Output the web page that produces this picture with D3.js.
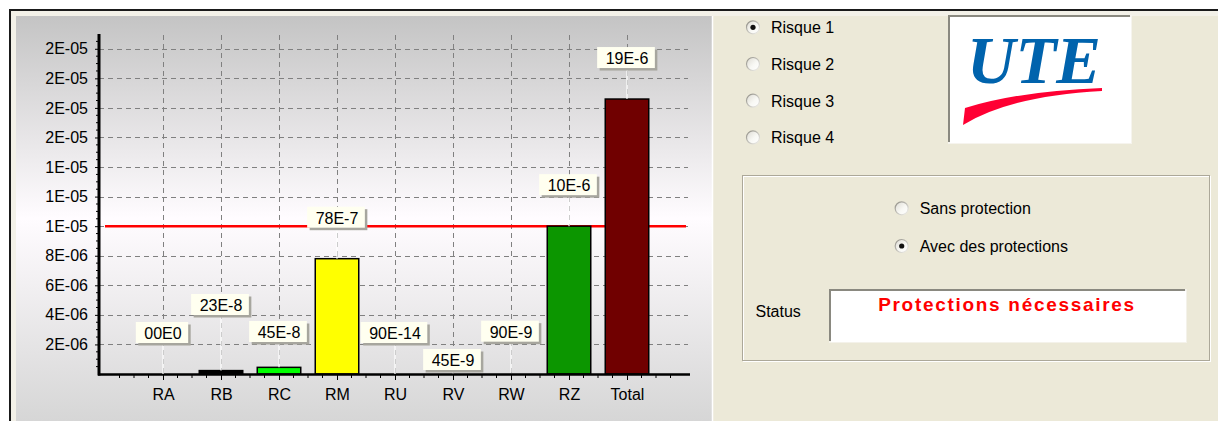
<!DOCTYPE html>
<html lang="fr">
<head>
<meta charset="UTF-8">
<title>Risques</title>
<script src="https://d3js.org/d3.v7.min.js"></script>
<style>
  body { margin: 0; padding: 0; overflow: hidden; background: #fff; }
  svg { display: block; font-family: "Liberation Sans", Arial, sans-serif; }
</style>
</head>
<body>
<div id="chart"></div>
<script>
// chart data
const categories = ["RA", "RB", "RC", "RM", "RU", "RV", "RW", "RZ", "Total"];
const values = [0, 2.3e-7, 4.5e-7, 7.8e-6, 9.0e-14, 4.5e-8, 9.0e-8, 1.0e-5, 1.86e-5];
const markLabels = ["00E0", "23E-8", "45E-8", "78E-7", "90E-14", "45E-9", "90E-9", "10E-6", "19E-6"];
const barColors = ["#ff0000", "#000000", "#00ff00", "#ffff00", "#0000ff", "#ff00ff", "#00ffff", "#0c9600", "#700000"];
const yTicks = [2e-6, 4e-6, 6e-6, 8e-6, 1e-5, 1.2e-5, 1.4e-5, 1.6e-5, 1.8e-5, 2e-5, 2.2e-5];
const yTickLabels = ["2E-06", "4E-06", "6E-06", "8E-06", "1E-05", "1E-05", "1E-05", "2E-05", "2E-05", "2E-05", "2E-05"];
const tolerable = 1e-5;

const risks = ["Risque 1", "Risque 2", "Risque 3", "Risque 4"];
const selectedRisk = 0;
const protections = ["Sans protection", "Avec des protections"];
const selectedProtection = 1;
const statusText = "Protections nécessaires";

const W = 1218, H = 421;
const svg = d3.select("#chart").append("svg")
    .attr("width", W)
    .attr("height", H);

const defs = svg.append("defs");
const bg = defs.append("linearGradient")
    .attr("id", "panelBg")
    .attr("x1", 0).attr("y1", 0).attr("x2", 0).attr("y2", 1);
bg.append("stop").attr("offset", "0%").attr("stop-color", "#c4c4c4");
bg.append("stop").attr("offset", "50%").attr("stop-color", "#fffcff");
bg.append("stop").attr("offset", "100%").attr("stop-color", "#d6d6d6");

const radioGrad = defs.append("linearGradient")
    .attr("id", "radioFill")
    .attr("x1", 0).attr("y1", 0).attr("x2", 1).attr("y2", 1);
radioGrad.append("stop").attr("offset", "0%").attr("stop-color", "#dcdad2");
radioGrad.append("stop").attr("offset", "55%").attr("stop-color", "#f8f8f4");
radioGrad.append("stop").attr("offset", "100%").attr("stop-color", "#ffffff");
const radioEdge = defs.append("linearGradient")
    .attr("id", "radioEdge")
    .attr("x1", 0).attr("y1", 0).attr("x2", 1).attr("y2", 1);
radioEdge.append("stop").attr("offset", "0%").attr("stop-color", "#8e8c84");
radioEdge.append("stop").attr("offset", "100%").attr("stop-color", "#f4f3ee");

// window frame
svg.append("rect").attr("width", W).attr("height", H).attr("fill", "#ffffff");
svg.append("rect").attr("x", 9).attr("y", 9).attr("width", W - 9).attr("height", H - 9).attr("fill", "#1a1a1a");
svg.append("rect").attr("x", 11).attr("y", 11).attr("width", W - 11).attr("height", H - 11).attr("fill", "#f3f1e8");
svg.append("rect").attr("x", 16).attr("y", 16).attr("width", W - 16).attr("height", H - 16).attr("fill", "#ece9d8");

// chart panel
svg.append("rect")
    .attr("x", 16).attr("y", 16)
    .attr("width", 696).attr("height", H - 16)
    .attr("fill", "url(#panelBg)");
svg.append("line")
    .attr("x1", 712.5).attr("x2", 712.5).attr("y1", 16).attr("y2", H)
    .attr("stroke", "#ffffff").attr("stroke-width", 1.5);

const x = d3.scalePoint().domain(categories).range([163, 627]);
const step = x.step();
const y = d3.scaleLinear().domain([0, 2.3e-5]).range([374, 34]);
const xLeft = 99, xRight = 690;
const barW = 43.5;

const g = svg.append("g");

// grid
g.selectAll(".hgrid")
    .data(yTicks)
    .join("line")
    .attr("x1", xLeft).attr("x2", 688)
    .attr("y1", d => Math.round(y(d)) + 0.5)
    .attr("y2", d => Math.round(y(d)) + 0.5)
    .attr("stroke", "#808080")
    .attr("stroke-dasharray", "5,4");
g.selectAll(".vgrid")
    .data(categories)
    .join("line")
    .attr("x1", d => Math.round(x(d)) + 0.5)
    .attr("x2", d => Math.round(x(d)) + 0.5)
    .attr("y1", y(2.3e-5) + 1).attr("y2", y(0))
    .attr("stroke", "#808080")
    .attr("stroke-dasharray", "5,4");

// tolerable risk line
g.append("line")
    .attr("x1", 105).attr("x2", 686)
    .attr("y1", y(tolerable)).attr("y2", y(tolerable))
    .attr("stroke", "#ff0000")
    .attr("stroke-width", 2.5);

// bars (those under 2px vanish into the axis)
const visible = d => (y(0) - y(d)) > 2;
g.selectAll(".bar")
    .data(values)
    .join("rect")
    .attr("x", (d, i) => x(categories[i]) - barW / 2)
    .attr("y", d => y(d))
    .attr("width", barW)
    .attr("height", d => y(0) - y(d))
    .attr("fill", (d, i) => visible(d) ? barColors[i] : "none")
    .attr("stroke", d => visible(d) ? "#000" : "none")
    .attr("stroke-width", 1.5);

// axes
const yAxis = d3.axisLeft(y)
    .tickValues(yTicks)
    .tickFormat((d, i) => yTickLabels[i])
    .tickSize(4)
    .tickPadding(7);
const ya = g.append("g").attr("transform", `translate(${xLeft},0)`).call(yAxis);
ya.select(".domain").remove();
ya.selectAll("text").attr("font-size", 16).attr("fill", "#000").attr("font-family", "Liberation Sans, Arial, sans-serif");
ya.selectAll("line").attr("stroke", "#000");

// minor ticks
const yMinor = d3.range(0, 2.3e-5, 5e-7).filter(v => Math.round(v / 2e-6 * 4) % 4 !== 0);
g.selectAll(".yminor")
    .data(yMinor)
    .join("line")
    .attr("x1", xLeft - 3).attr("x2", xLeft)
    .attr("y1", d => y(d)).attr("y2", d => y(d))
    .attr("stroke", "#000");

const xMinor = d3.range(-4, 41).map(k => 163 + k * step / 4).filter((v, k) => v >= 104 && v <= 686 && (k % 4) !== 0);
g.selectAll(".xminor")
    .data(xMinor)
    .join("line")
    .attr("x1", d => d).attr("x2", d => d)
    .attr("y1", y(0)).attr("y2", y(0) + 4)
    .attr("stroke", "#000");

const xAxis = d3.axisBottom(x).tickSize(6).tickPadding(9);
const xa = g.append("g").attr("transform", `translate(0,${y(0)})`).call(xAxis);
xa.select(".domain").remove();
xa.selectAll("text").attr("font-size", 16).attr("fill", "#000").attr("font-family", "Liberation Sans, Arial, sans-serif");
xa.selectAll("line").attr("stroke", "#000");

g.append("line")
    .attr("x1", xLeft - 1).attr("x2", xRight)
    .attr("y1", y(0) + 0.5).attr("y2", y(0) + 0.5)
    .attr("stroke", "#000").attr("stroke-width", 2.5);
g.append("line")
    .attr("x1", xLeft).attr("x2", xLeft)
    .attr("y1", 34).attr("y2", y(0) + 1.5)
    .attr("stroke", "#000").attr("stroke-width", 3);

// value marks: first overlap is pushed above, later overlaps below
const marksG = g.append("g");
const placed = [];
let goUp = true;
values.forEach((v, i) => {
    const cx = x(categories[i]);
    const top0 = y(v);
    const grp = marksG.append("g");
    const txt = grp.append("text")
        .attr("font-size", 16)
        .attr("text-anchor", "middle")
        .attr("fill", "#000")
        .text(markLabels[i]);
    const tw = txt.node().getComputedTextLength();
    const bw = tw + 15, bh = 21;
    const bx = cx - bw / 2 - 1;
    let by = top0 - 52;
    const hit = placed.find(p => bx < p.x1 + 3 && bx + bw + 2 > p.x0 && Math.abs(p.y - by) < bh + 2);
    if (hit) {
        by = goUp ? hit.y - 28 : hit.y + 27;
        goUp = false;
    }
    placed.push({ x0: bx, x1: bx + bw + 2, y: by });

    grp.insert("line", "text")
        .attr("x1", cx).attr("x2", cx)
        .attr("y1", by + bh).attr("y2", top0)
        .attr("stroke", "#ffffff").attr("stroke-width", 1.2);
    grp.insert("rect", "text")
        .attr("x", bx + 2.5).attr("y", by + 2.5)
        .attr("width", bw).attr("height", bh)
        .attr("fill", "#a7a69e");
    grp.insert("rect", "text")
        .attr("x", bx).attr("y", by)
        .attr("width", bw).attr("height", bh)
        .attr("fill", "#fffff0");
    txt.attr("x", cx).attr("y", by + 17);
});

// right side controls
function radio(parent, cx, cy, label, checked) {
    parent.append("circle")
        .attr("cx", cx).attr("cy", cy).attr("r", 6.5)
        .attr("fill", "url(#radioFill)")
        .attr("stroke", "url(#radioEdge)").attr("stroke-width", 1.2);
    if (checked) {
        parent.append("circle")
            .attr("cx", cx).attr("cy", cy).attr("r", 2.6)
            .attr("fill", "#111");
    }
    parent.append("text")
        .attr("x", cx + 18).attr("y", cy + 6)
        .attr("font-size", 16).attr("fill", "#000")
        .text(label);
}

const ui = svg.append("g");
risks.forEach((r, i) => radio(ui, 753, 27.3 + i * 36.7, r, i === selectedRisk));

// logo
ui.append("rect").attr("x", 948).attr("y", 15).attr("width", 184).attr("height", 129).attr("fill", "#f6f4ee");
ui.append("rect").attr("x", 948).attr("y", 15).attr("width", 182).attr("height", 127).attr("fill", "#8a8980");
ui.append("rect").attr("x", 950).attr("y", 17).attr("width", 181).attr("height", 126).attr("fill", "#ffffff");
ui.append("path")
    .attr("d", "M965,108 Q1020,91 1102,88 L1102,91 Q1010,96 963,125 Z")
    .attr("fill", "#ff0033");
ui.append("text")
    .attr("x", 1034).attr("y", 83)
    .attr("text-anchor", "middle")
    .attr("font-family", "Liberation Serif, Times New Roman, serif")
    .attr("font-style", "italic").attr("font-weight", "bold")
    .attr("font-size", 67)
    .attr("fill", "#0063ad")
    .text("UTE");

// group box
ui.append("rect").attr("x", 743.5).attr("y", 176.5).attr("width", 467).attr("height", 185)
    .attr("fill", "none").attr("stroke", "#ffffff");
ui.append("rect").attr("x", 742.5).attr("y", 175.5).attr("width", 467).attr("height", 185)
    .attr("fill", "none").attr("stroke", "#aca899");

protections.forEach((p, i) => radio(ui, 901.7, 208.3 + i * 37.7, p, i === selectedProtection));

ui.append("text")
    .attr("x", 755.5).attr("y", 317)
    .attr("font-size", 16).attr("fill", "#000")
    .text("Status");

ui.append("rect").attr("x", 829).attr("y", 289).attr("width", 358).attr("height", 54).attr("fill", "#f4f2ea");
ui.append("rect").attr("x", 829).attr("y", 289).attr("width", 356).attr("height", 52).attr("fill", "#8a8980");
ui.append("rect").attr("x", 831).attr("y", 291).attr("width", 355).attr("height", 51).attr("fill", "#ffffff");
ui.append("text")
    .attr("x", 1007).attr("y", 311)
    .attr("text-anchor", "middle")
    .attr("font-size", 19).attr("font-weight", "bold")
    .attr("letter-spacing", 1.7)
    .attr("fill", "#ff0000")
    .text(statusText);
</script>
</body>
</html>
